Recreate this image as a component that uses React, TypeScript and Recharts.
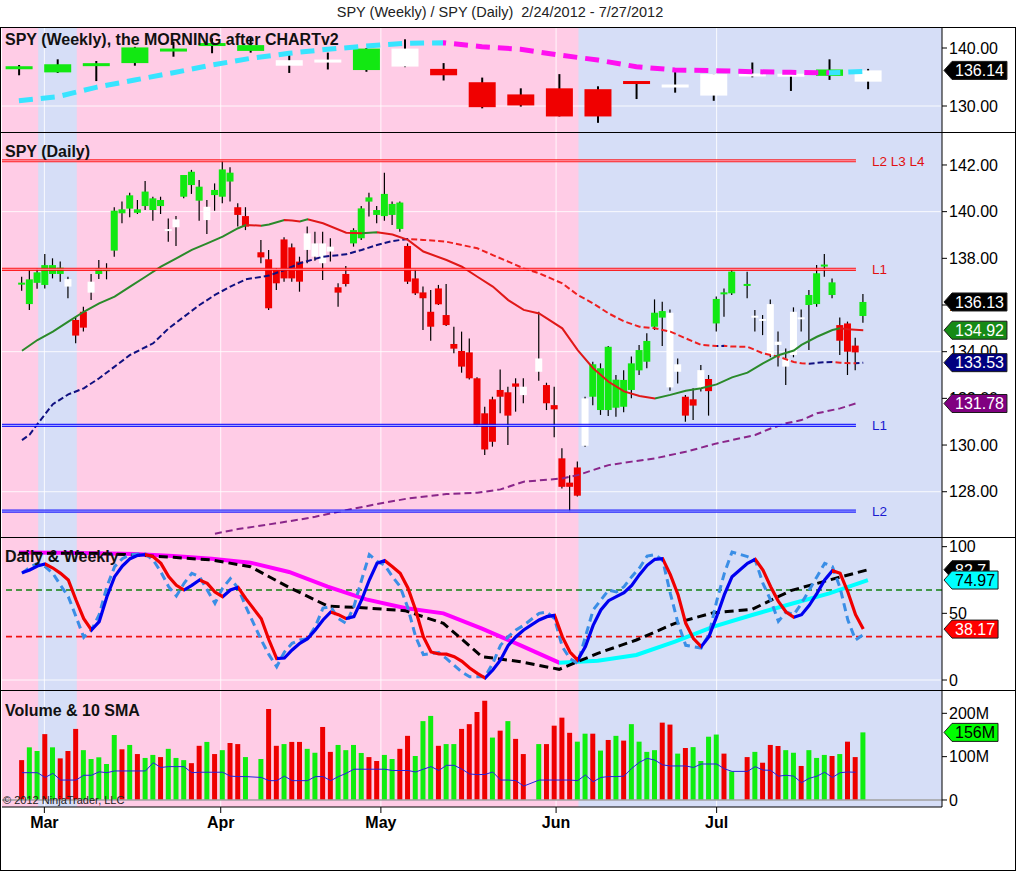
import React from 'react';
import { ComposedChart, Bar, Line, XAxis, YAxis, ReferenceLine, ReferenceArea, Cell } from 'recharts';

const FONT = "'Liberation Sans', Arial, Helvetica, sans-serif";
const TITLE = 'SPY (Weekly) / SPY (Daily)  2/24/2012 - 7/27/2012';

// ---------- time axis: one slot per trading day, holiday slots stay empty ----------
const HOLIDAY_SLOTS = [30, 66, 93];
const LAST_SLOT = 109;
const dailySlots: number[] = [];
for (let s = 0; s <= LAST_SLOT; s++) if (!HOLIDAY_SLOTS.includes(s)) dailySlots.push(s);
const X_MIN = -2.59;
const X_MAX = 119.2;
const WEEK_SHIFT = -0.4;
const weekSlot = (k: number) => 5 * k + WEEK_SHIFT;

const monthTickSlots = [2.9, 25.75, 46.5, 69.2, 90];
const monthLabels = ['Mar', 'Apr', 'May', 'Jun', 'Jul'];

// weekly trend colouring of the background: p = pink, b = blue
const weeklyTrend = 'pbpppppppppppppbbbbbbbb';

// ---------- weekly SPY ----------
const weeklyOpen = [136.55, 135.8, 136.9, 137.4, 139.4, 140.55, 139.5, 137.9, 137.8, 136.2, 139.9, 136.4, 134.1, 130.1, 133.05, 128.2, 134.0, 133.4, 131.8, 135.3, 135.3, 135.2, 134.2];
const weeklyHigh = [137.07, 138.05, 137.76, 140.2, 141.1, 141.7, 141.8, 138.9, 139.2, 140.0, 141.5, 137.4, 134.9, 133.05, 135.5, 133.4, 134.1, 136.2, 135.5, 137.5, 135.4, 138.05, 136.4];
const weeklyLow = [135.3, 135.7, 134.3, 136.95, 138.5, 139.1, 139.2, 135.7, 136.3, 135.9, 136.7, 134.4, 129.6, 129.9, 128.2, 127.1, 131.2, 132.3, 130.9, 134.95, 132.6, 134.5, 132.9];
const weeklyClose = [136.65, 137.2, 137.36, 140.1, 139.9, 140.65, 140.5, 136.95, 137.7, 139.9, 136.8, 135.3, 129.8, 132.0, 128.2, 132.9, 134.1, 133.5, 135.5, 135.4, 135.32, 136.3, 136.14];
const weeklyPaint = 'gggggggwwgwrrrrrrwwwwgw';
const weeklyMA = [130.91, 131.6, 133.22, 134.48, 135.74, 137.07, 138.22, 139.09, 139.78, 140.34, 140.81, 140.91, 140.22, 139.78, 138.79, 137.93, 136.78, 136.21, 136.09, 135.92, 135.8, 135.72, 135.98];

// ---------- daily SPY (one value per trading slot) ----------
const dailyOpen = [
  136.95, 136.04, 136.95, 137.71, 137.33, 137.6, 137.11, 135.36, 135.03, 136.53, 137.33, 137.45, 138.33, 140.1, 140.13, 140.1, 140.24, 140.07, 140.5, 139.18, 139.33, 140.64, 141.71, 141.07, 139.64, 140.93, 140.64, 141.67, 140.19, 139.36,
  138.04, 137.96, 137.53, 137.14, 138.47, 137.86, 138.36, 138.07, 138.64, 138.5, 136.53, 136.9, 138.64, 138.86, 140.61, 140.07, 139.81, 139.86, 140.39, 138.53, 136.5, 136.29, 135.07, 136.71, 135.14, 134.13, 134.03, 133.97, 132.86, 131.36, 130.14, 132.36, 131.26, 132.64, 132.5,
  133.14, 132.57, 131.71, 129.43, 128.39, 127.83, 129.97, 133.46, 131.5, 134.21, 131.6, 132.79, 132.36, 133.2, 133.57, 135.07, 135.74, 135.67, 133.14, 132.07, 131.69, 132.4, 132.31, 135.21, 136.53, 136.5,
  136.89, 135.47, 135.39, 136.04, 134.43, 133.36, 133.86, 135.46, 136.0, 136.04, 137.66, 136.97, 134.47, 135.21, 134.26, 135.53,
];
const dailyHigh = [
  137.21, 137.5, 137.55, 138.19, 138.0, 137.86, 137.21, 135.5, 135.93, 137.33, 137.93, 137.79, 140.19, 140.43, 140.81, 140.5, 141.31, 140.64, 140.64, 139.71, 139.81, 141.57, 141.79, 141.36, 140.5, 141.21, 142.19, 141.9, 140.36, 140.19,
  138.79, 138.36, 137.57, 138.9, 138.64, 138.07, 139.36, 139.14, 139.14, 138.86, 136.93, 137.67, 139.29, 140.24, 140.81, 140.24, 141.67, 140.43, 140.43, 138.64, 137.53, 136.79, 136.64, 136.86, 136.9, 135.07, 134.86, 134.57, 132.9, 131.64, 132.07, 133.24, 132.5, 132.86, 132.86,
  135.71, 132.67, 132.5, 129.86, 128.71, 129.29, 132.07, 133.57, 133.5, 134.24, 133.0, 133.2, 133.79, 134.29, 134.79, 136.24, 136.14, 135.81, 133.71, 132.14, 132.43, 133.43, 133.0, 136.36, 136.71, 137.5,
  137.43, 135.79, 135.57, 136.24, 134.86, 134.14, 135.9, 135.81, 136.64, 137.71, 138.19, 137.14, 135.47, 135.29, 134.6, 136.47,
];
const dailyLow = [
  136.61, 135.79, 136.7, 136.71, 137.14, 137.0, 136.29, 134.36, 134.86, 136.21, 137.11, 137.1, 138.07, 139.5, 139.76, 139.9, 140.07, 139.61, 139.9, 138.71, 138.53, 140.57, 140.76, 139.61, 139.04, 140.04, 140.36, 140.43, 139.36, 139.21,
  137.79, 135.79, 136.64, 137.0, 137.0, 136.57, 137.79, 137.9, 137.07, 137.86, 135.93, 136.79, 138.5, 138.79, 139.79, 139.5, 139.61, 139.43, 139.14, 136.9, 136.43, 134.93, 134.47, 136.0, 135.1, 133.93, 133.1, 132.81, 130.79, 129.57, 129.93, 131.36, 130.0, 131.43, 131.79,
  132.76, 131.5, 130.33, 128.14, 127.14, 127.79, 129.93, 131.71, 131.29, 131.24, 131.21, 131.4, 132.0, 133.0, 133.29, 134.93, 134.24, 132.33, 132.64, 131.0, 131.07, 132.29, 131.26, 134.86, 135.5, 136.43,
  136.29, 134.86, 134.71, 133.76, 133.36, 132.57, 133.76, 134.86, 134.07, 135.93, 137.21, 136.29, 133.86, 133.0, 133.21, 135.24,
];
const dailyClose = [
  136.88, 137.1, 137.4, 136.86, 137.71, 137.33, 136.79, 134.69, 135.71, 137.0, 137.57, 137.55, 140.04, 139.93, 140.7, 139.95, 140.86, 140.57, 140.24, 139.24, 139.67, 141.57, 141.14, 140.47, 140.21, 140.71, 141.81, 141.29, 139.86, 139.81,
  138.26, 135.86, 136.93, 138.81, 137.14, 137.0, 139.07, 138.64, 137.79, 138.29, 136.76, 137.33, 139.21, 140.14, 140.43, 139.86, 140.76, 140.33, 139.26, 137.0, 137.14, 136.54, 135.71, 136.03, 135.57, 134.33, 133.36, 132.86, 130.86, 129.81, 131.96, 132.07, 132.26, 132.5, 132.14,
  133.71, 131.79, 131.53, 128.21, 128.21, 129.04, 132.0, 132.07, 133.29, 131.5, 132.8, 131.64, 133.5, 134.07, 134.46, 135.67, 135.46, 132.47, 133.46, 131.26, 131.96, 133.21, 132.83, 136.26, 136.47, 137.43,
  136.83, 135.53, 135.33, 133.86, 134.29, 133.71, 135.71, 135.4, 136.43, 137.36, 137.72, 136.43, 135.14, 134.0, 133.97, 136.13,
];
const dailyPaint =
  'ggggggwrrwgggggggggwwgggwgggrr' +
  'rrrrrrwwwwrrgggggggrrrrrrrrrrrrrrrw' +
  'wrrrrrwggggggggggwwrrwrggg' +
  'gwwwwwwwggggrrrg';

// moving averages: [slot, value]
const smaShort: [number, number][] = [
  [0, 134.04], [2, 134.5], [4, 134.86], [6, 135.29], [8, 135.71], [10, 136.07], [12, 136.36], [14, 136.79], [16, 137.21], [18, 137.64], [20, 138.0], [22, 138.36], [24, 138.64], [26, 138.93], [28, 139.29], [29, 139.43],
  [31, 139.4], [32, 139.45], [34, 139.64], [35, 139.62], [36, 139.58], [37, 139.67], [39, 139.5], [42, 139.1], [44, 139.08], [46, 139.12], [48, 139.02], [50, 138.79], [52, 138.29], [55, 137.93], [57, 137.64], [59, 137.21], [61, 136.79], [63, 136.21], [65, 135.79],
  [67, 135.64], [68, 135.43], [70, 135.0], [72, 134.07], [74, 133.29], [76, 132.71], [78, 132.3], [80, 132.1], [82, 132.0], [84, 132.15], [86, 132.33], [88, 132.43], [90, 132.6], [92, 132.9],
  [94, 133.1], [96, 133.5], [98, 133.85], [100, 134.05], [101, 134.29], [103, 134.64], [105, 134.93], [106, 135.0], [107, 134.96], [108, 134.94], [109, 134.92],
];
const smaMid: [number, number][] = [
  [0, 130.21], [1, 130.45], [2, 130.9], [4, 131.75], [6, 132.17], [8, 132.43], [10, 132.86], [12, 133.36], [14, 133.86], [17, 134.36], [19, 135.0], [21, 135.5], [23, 136.0], [25, 136.43], [27, 136.79], [29, 137.1],
  [32, 137.26], [34, 137.5], [36, 137.79], [39, 138.07], [42, 138.17], [44, 138.36], [46, 138.57], [48, 138.74], [50, 138.83], [52, 138.79], [55, 138.71], [57, 138.57], [59, 138.43], [61, 138.14], [63, 137.86], [65, 137.57],
  [67, 137.36], [70, 136.93], [72, 136.43], [74, 136.07], [76, 135.64], [78, 135.3], [80, 135.07], [82, 135.0], [84, 134.86], [86, 134.57], [88, 134.29], [90, 134.24], [91, 134.25], [92, 134.22],
  [94, 134.21], [96, 133.93], [98, 133.79], [100, 133.56], [101, 133.5], [102, 133.48], [103, 133.52], [104, 133.55], [105, 133.56], [106, 133.53], [107, 133.51], [108, 133.5], [109, 133.53],
];
const smaLong: [number, number][] = [
  [25, 126.2], [28, 126.4], [32, 126.6], [36, 126.81], [38, 126.93], [42, 127.21], [46, 127.47], [50, 127.71], [55, 127.9], [59, 127.96], [62, 128.1], [65, 128.43],
  [70, 128.57], [72, 128.71], [74, 128.93], [76, 129.14], [79, 129.29], [82, 129.43], [86, 129.71], [90, 130.07], [95, 130.43], [97, 130.71], [99, 130.93], [101, 131.07], [103, 131.36], [106, 131.57], [108, 131.78],
];
const levels = [
  { price: 142.18, label: 'L2 L3 L4', color: '#ff0000', inner: '#ffc4d6', text: '#e01010' },
  { price: 137.53, label: 'L1', color: '#ff0000', inner: '#ffc4d6', text: '#e01010' },
  { price: 130.84, label: 'L1', color: '#0000ff', inner: '#c8d2ff', text: '#1a1ad0' },
  { price: 127.17, label: 'L2', color: '#0000ff', inner: '#c8d2ff', text: '#1a1ad0' },
];
const LEVEL_END_SLOT = 108.05;

// ---------- stochastics ----------
const stochK = [
  80.5, 82.5, 85.5, 87, 84, 80, 75, 60, 46, 37.5, 43.75, 62.5, 77.5, 85.5, 91, 93.5, 94, 92.5, 87.5, 77.5, 71, 67.5, 71, 75, 72.5, 66, 62.5, 67.5, 69.5, 61,
  46, 30, 16, 16.5, 22.5, 27.5, 31, 37.5, 45, 51, 49, 46, 47.5, 60, 75, 87.5, 89.5, 85, 80, 69, 52.5, 32.5, 21, 19.5, 19.4, 17.5, 14, 9, 5, 1.5, 7.5, 15, 26, 32.5, 37.5,
  45, 47.5, 48.5, 32.5, 21, 15, 25, 41, 52.5, 59.5, 62.5, 65.5, 71, 79, 86, 90.5, 91, 79, 64, 42.5, 31, 25, 32.5, 47.5, 64, 77.5,
  87.5, 90.5, 82.5, 70, 59, 51, 47, 49, 56, 65, 75, 82, 80, 66, 49, 38.17,
];
const stochFast = [
  80, 84.5, 87.5, 85, 80, 71, 62.5, 47.5, 32, 37.5, 49, 70, 85, 91, 94, 94.5, 94.5, 90, 81, 70, 63, 72.5, 80, 77.5, 67.5, 57.5, 69, 76, 69, 55,
  30, 19, 10, 21, 27.5, 30, 31, 40, 54, 55, 46, 42.5, 55, 75, 94, 89, 86, 77.5, 70, 54, 32.5, 19, 20, 20.5, 16, 11, 6, 2.5, 2.5, 2.5, 12.5, 26, 32.5, 37.5, 41,
  50, 51, 46, 25, 16, 12.5, 32.5, 52.5, 60, 67.5, 66, 70, 77.5, 84, 93, 94, 90, 65, 42.5, 26, 25, 24, 34, 59, 80, 96,
  92.5, 90, 72.5, 60, 44, 51, 49, 57.5, 67.5, 77.5, 87.5, 85, 69, 45, 30, 34,
];
const weeklyStochK = [95, 95, 95, 93.75, 92, 90, 85, 69.5, 55.5, 54, 52, 42.5, 17.5, 13.75, 8, 20, 30, 42.5, 50.5, 53, 67, 75, 82.7];
const weeklyStochD = [95.6, 95.5, 95, 94.5, 93, 91, 88, 81, 70, 60.5, 54, 50, 38.5, 26, 13, 14.5, 18.75, 28.75, 40, 48.75, 57, 65, 74.97];
const STOCH_HIGH = 67.5;
const STOCH_LOW = 32.5;

// ---------- volume (millions) ----------
const dailyVolume = [
  92, 121.5, 113, 152, 121.5, 96, 113, 164, 115, 94.6, 98.5, 83, 150, 117, 127, 106, 97, 104, 99, 118, 97, 92, 85, 125, 134, 106, 115, 131.5, 129, 99,
  94.6, 210, 125, 129, 134, 134, 118, 109, 168.5, 111, 127, 115, 127, 108.5, 99, 90, 104, 94.6, 118, 148, 101.5, 182, 194, 125, 129, 129, 164, 175, 203, 229, 144, 160, 182, 141, 106,
  129, 129, 171.5, 190, 155, 134.6, 153, 153, 114, 138.5, 148, 137, 175, 134.6, 111, 115, 178.5, 174, 107, 120, 122, 90, 146, 151, 107, 66,
  99, 111, 86, 127, 124.6, 115, 109, 78.5, 115, 97, 104, 101.5, 106, 134.6, 99, 156,
];
const volumeSma = [
  63, 63, 63, 52, 61.5, 46, 46, 46, 57, 57, 65, 63, 67, 67, 67, 67, 67, 86, 75, 77, 77, 77, 63, 64, 64, 64, 64, 55, 54, 54,
  52, 44.6, 44.6, 55, 44.6, 44.6, 44.6, 54, 54, 44.6, 54, 61.5, 71, 71, 71, 71, 71, 68, 68, 68, 64.6, 71, 77, 68, 80, 80, 71, 60, 58.5, 59, 64.6, 46, 46, 44.6, 32,
  46, 46, 46, 46, 46, 44.6, 57.7, 42, 52, 54, 54, 55, 73, 87, 96, 92, 81, 78.5, 78.5, 78.5, 75, 83, 83, 83, 72, 66,
  66, 77, 69, 68.5, 55, 57, 55, 40, 50, 55, 64, 52, 63, 64.6, 64,
];

// ---------- colours ----------
const PINK = '#ffcce6';
const BLUE = '#d6def7';
const PAINT: Record<string, string> = { g: '#12e812', r: '#f00000', w: '#ffffff' };
const VOL_UP = '#10ee10';
const VOL_DOWN = '#ee0000';

// ---------- rows ----------
const toMap = (pts: [number, number][]) => new Map(pts.map(([s, v]) => [s, v]));
const mShort = toMap(smaShort);
const mMid = toMap(smaMid);
const mLong = toMap(smaLong);

const weeklyRows = weeklyClose.map((c, k) => ({
  x: weekSlot(k), o: weeklyOpen[k], h: weeklyHigh[k], l: weeklyLow[k], c, paint: weeklyPaint[k], ma: weeklyMA[k],
}));
const dailyRows = dailySlots.map((s, i) => ({
  x: s, o: dailyOpen[i], h: dailyHigh[i], l: dailyLow[i], c: dailyClose[i], paint: dailyPaint[i],
  smaS: mShort.has(s) ? mShort.get(s) : null,
  smaM: mMid.has(s) ? mMid.get(s) : null,
  smaL: mLong.has(s) ? mLong.get(s) : null,
}));
const stochRows = [
  ...dailySlots.map((s, i) => ({ x: s, k: stochK[i], f: stochFast[i], wk: null as number | null, wd: null as number | null })),
  ...weeklyStochK.map((v, k) => ({ x: weekSlot(k), k: null as number | null, f: null as number | null, wk: v, wd: weeklyStochD[k] })),
].sort((a, b) => a.x - b.x);
const volumeRows = dailySlots.map((s, i) => ({
  x: s, v: dailyVolume[i], up: dailyClose[i] >= dailyOpen[i], vs: i < volumeSma.length ? volumeSma[i] : null,
}));

const bgRuns: [number, number][] = [];
for (let k = 0; k < weeklyTrend.length; k++) {
  if (weeklyTrend[k] !== 'b') continue;
  let e = k;
  while (e + 1 < weeklyTrend.length && weeklyTrend[e + 1] === 'b') e++;
  bgRuns.push([weekSlot(k) - 2.5, e === weeklyTrend.length - 1 ? X_MAX : weekSlot(e) + 2.5]);
  k = e;
}

const last = <T,>(a: T[]) => a[a.length - 1];

// ---------- chart geometry ----------
const WEEKLY_DOMAIN: [number, number] = [125.52, 143.45];
const DAILY_DOMAIN: [number, number] = [126.06, 143.37];
const STOCH_DOMAIN: [number, number] = [-7.5, 106.5];
const VOLUME_DOMAIN: [number, number] = [-16.2, 251.5];

// value tags shown on the right axis (last value of each series)
const weeklyTags = [{ value: last(weeklyClose), text: last(weeklyClose).toFixed(2), bg: '#000', fg: '#fff' }];
const dailyTags = [
  { value: last(dailyClose), text: last(dailyClose).toFixed(2), bg: '#000', fg: '#fff' },
  { value: last(smaShort)[1], text: last(smaShort)[1].toFixed(2), bg: '#168a16', fg: '#fff' },
  { value: last(smaMid)[1], text: last(smaMid)[1].toFixed(2), bg: '#000080', fg: '#fff' },
  { value: last(smaLong)[1], text: last(smaLong)[1].toFixed(2), bg: '#800080', fg: '#fff' },
];
const stochTags = [
  { value: last(weeklyStochK), text: String(last(weeklyStochK)), bg: '#000', fg: '#fff' },
  { value: last(weeklyStochD), text: last(weeklyStochD).toFixed(2), bg: '#00ffff', fg: '#000' },
  { value: last(stochK), text: last(stochK).toFixed(2), bg: '#ff0000', fg: '#fff' },
];
const volumeTags = [{ value: last(dailyVolume), text: last(dailyVolume) + 'M', bg: '#00ff00', fg: '#000' }];

// ---------- helpers ----------
function SlopeGradient({ id, pts, up, down }: { id: string; pts: [number, number][]; up: string; down: string }) {
  const x0 = pts[0][0];
  const x1 = pts[pts.length - 1][0];
  const stops: React.ReactNode[] = [];
  for (let j = 0; j < pts.length - 1; j++) {
    const col = pts[j + 1][1] >= pts[j][1] ? up : down;
    stops.push(<stop key={'a' + j} offset={(pts[j][0] - x0) / (x1 - x0)} stopColor={col} />);
    stops.push(<stop key={'b' + j} offset={(pts[j + 1][0] - x0) / (x1 - x0)} stopColor={col} />);
  }
  return (
    <linearGradient id={id} x1="0" y1="0" x2="1" y2="0">
      {stops}
    </linearGradient>
  );
}

function candleShape(wick: number, minBody: number) {
  return (props: any) => {
    const { x, y, width, height, payload } = props;
    if (!payload || !Number.isFinite(x) || !Number.isFinite(y)) return <g />;
    const top = Math.min(y, y + height);
    const span = Math.abs(height);
    const range = payload.h - payload.l;
    const py = (v: number) => top + (range > 0 ? ((payload.h - v) / range) * span : 0);
    const cx = x + width / 2;
    let bt = py(Math.max(payload.o, payload.c));
    let bb = py(Math.min(payload.o, payload.c));
    if (bb - bt < minBody) {
      const m = (bt + bb) / 2;
      bt = m - minBody / 2;
      bb = m + minBody / 2;
    }
    return (
      <g>
        <line x1={cx} x2={cx} y1={top} y2={top + span} stroke="#000" strokeWidth={wick} />
        <rect x={x} y={bt} width={width} height={bb - bt} fill={PAINT[payload.paint]} />
      </g>
    );
  };
}
const weeklyCandle = candleShape(2, 3);
const dailyCandle = candleShape(1.2, 2);

const textW = (s: string) => s.split('').reduce((w, ch) => w + (ch === '.' ? 4.45 : ch === 'M' ? 13.3 : 8.9), 0);
function tag(text: string, bg: string, fg: string) {
  return (props: any) => {
    const vb = props.viewBox;
    if (!vb) return null;
    const tip = vb.x + vb.width + 2;
    const yc = vb.y;
    const a = 8;
    const h = 18;
    const w = textW(text) + 6;
    const d = `M${tip},${yc} L${tip + a},${yc - h / 2} L${tip + a + w},${yc - h / 2} L${tip + a + w},${yc + h / 2} L${tip + a},${yc + h / 2} Z`;
    return (
      <g>
        <path d={d} fill={bg} stroke="#1a1a1a" strokeWidth={1} />
        <text x={tip + a + 3} y={yc + 5.8} fill={fg} fontSize={16} fontFamily={FONT}>
          {text}
        </text>
      </g>
    );
  };
}
function levelLabel(text: string, color: string) {
  return (props: any) => {
    const vb = props.viewBox;
    if (!vb) return null;
    return (
      <text x={vb.x + vb.width + 16} y={vb.y + 5} fill={color} fontSize={13.5} fontFamily={FONT}>
        {text}
      </text>
    );
  };
}

const MARGIN = { top: 0, right: 0, bottom: 0, left: 2 };
const AXIS_W = 74;
const tickStyle = { fill: '#000', fontSize: 16, fontFamily: FONT };

function backgroundLayer(prefix: string, hLines: number[]) {
  return [
    <ReferenceArea key={prefix + 'bg'} x1={X_MIN} x2={X_MAX} fill={PINK} fillOpacity={1} stroke="none" zIndex={-30} />,
    ...bgRuns.map(([a, b], i) => (
      <ReferenceArea key={prefix + 'blue' + i} x1={a} x2={b} fill={BLUE} fillOpacity={1} stroke="none" zIndex={-25} />
    )),
    ...monthTickSlots.map((s) => (
      <ReferenceLine key={prefix + 'vg' + s} x={s} stroke="#ffffff" strokeOpacity={0.85} strokeWidth={1} zIndex={-20} />
    )),
    ...hLines.map((v) => (
      <ReferenceLine key={prefix + 'hg' + v} y={v} stroke="#ffffff" strokeOpacity={0.85} strokeWidth={1} zIndex={-20} />
    )),
  ];
}

function rightAxis(domain: [number, number], ticks: number[], fmt: (v: number) => string) {
  return (
    <YAxis
      orientation="right"
      type="number"
      domain={domain}
      allowDataOverflow
      ticks={ticks}
      interval={0}
      tickFormatter={fmt}
      width={AXIS_W}
      axisLine={{ stroke: '#000' }}
      tickLine={{ stroke: '#000' }}
      tickSize={5}
      tick={tickStyle}
    />
  );
}

const hiddenX = () => <XAxis type="number" dataKey="x" domain={[X_MIN, X_MAX]} allowDataOverflow hide />;

// transparent chart laid over a panel so that the value tags sit above the axis labels
function TagOverlay({ top, height, domain, data, tags }: { top: number; height: number; domain: [number, number]; data: any[]; tags: { value: number; text: string; bg: string; fg: string }[] }) {
  return (
    <div style={{ position: 'absolute', left: 0, top, pointerEvents: 'none' }}>
      <ComposedChart width={1016} height={height} data={data} margin={MARGIN}>
        {hiddenX()}
        <YAxis orientation="right" type="number" domain={domain} allowDataOverflow width={AXIS_W} tick={false} axisLine={false} tickLine={false} />
        {tags.map((t, i) => (
          <ReferenceLine key={i} y={t.value} stroke="none" label={tag(t.text, t.bg, t.fg)} />
        ))}
      </ComposedChart>
    </div>
  );
}

const panelLabel = (text: string, top: number) => (
  <div
    style={{
      position: 'absolute', left: 5, top, fontSize: 16, lineHeight: '16px', fontWeight: 700, color: '#111',
      fontFamily: FONT, whiteSpace: 'pre', pointerEvents: 'none',
    }}
  >
    {text}
  </div>
);

export default function App() {
  const wMaPts: [number, number][] = weeklyMA.map((v, k) => [weekSlot(k), v]);
  const wdPts: [number, number][] = weeklyStochD.map((v, k) => [weekSlot(k), v]);
  const kPts: [number, number][] = dailySlots.map((s, i) => [s, stochK[i]]);

  return (
    <div style={{ position: 'absolute', left: 0, top: 0, width: 1016, height: 871, background: '#fff', overflow: 'hidden', fontFamily: FONT }}>
      <div style={{ position: 'absolute', left: 0, top: 5, width: 1000, textAlign: 'center', fontSize: 14.5, lineHeight: '14px', color: '#222', whiteSpace: 'pre' }}>
        {TITLE}
      </div>

      {/* weekly panel */}
      <div style={{ position: 'absolute', left: 0, top: 28 }}>
        <ComposedChart width={1016} height={104} data={weeklyRows} margin={MARGIN}>
          <defs>
            <SlopeGradient id="gWeeklyMA" pts={wMaPts} up="#38e4ff" down="#ff10f0" />
          </defs>
          {hiddenX()}
          {rightAxis(WEEKLY_DOMAIN, [130, 140], (v) => v.toFixed(2))}
          {backgroundLayer('w', [130])}
          <Bar dataKey={(d: any) => [d.l, d.h]} barSize={27} shape={weeklyCandle} isAnimationActive={false} />
          <Line dataKey="ma" stroke="url(#gWeeklyMA)" strokeWidth={5} strokeDasharray="14 8" dot={false} activeDot={false} isAnimationActive={false} />
        </ComposedChart>
      </div>
      <TagOverlay top={28} height={104} domain={WEEKLY_DOMAIN} data={weeklyRows} tags={weeklyTags} />

      {/* daily panel */}
      <div style={{ position: 'absolute', left: 0, top: 133 }}>
        <ComposedChart width={1016} height={404} data={dailyRows} margin={MARGIN}>
          <defs>
            <SlopeGradient id="gShort" pts={smaShort} up="#2a8a2a" down="#e01818" />
            <SlopeGradient id="gMid" pts={smaMid} up="#101080" down="#ee2020" />
          </defs>
          {hiddenX()}
          {rightAxis(DAILY_DOMAIN, [128, 130, 132, 134, 136, 138, 140, 142], (v) => v.toFixed(2))}
          {backgroundLayer('d', [128, 134, 140])}
          <Bar dataKey={(d: any) => [d.l, d.h]} barSize={7} shape={dailyCandle} isAnimationActive={false} />
          <Line dataKey="smaL" stroke="#8a268a" strokeWidth={2} strokeDasharray="7 4" dot={false} activeDot={false} connectNulls isAnimationActive={false} />
          <Line dataKey="smaM" stroke="url(#gMid)" strokeWidth={2} strokeDasharray="6 3" dot={false} activeDot={false} connectNulls isAnimationActive={false} />
          <Line dataKey="smaS" stroke="url(#gShort)" strokeWidth={2} dot={false} activeDot={false} connectNulls isAnimationActive={false} />
          {levels.map((lv, i) => (
            <ReferenceLine
              key={'lo' + i}
              segment={[{ x: X_MIN, y: lv.price }, { x: LEVEL_END_SLOT, y: lv.price }]}
              stroke={lv.color}
              strokeOpacity={0.85}
              strokeWidth={3.2}
              zIndex={450}
              label={levelLabel(lv.label, lv.text)}
            />
          ))}
          {levels.map((lv, i) => (
            <ReferenceLine
              key={'li' + i}
              segment={[{ x: X_MIN, y: lv.price }, { x: LEVEL_END_SLOT, y: lv.price }]}
              stroke={lv.inner}
              strokeOpacity={0.9}
              strokeWidth={0.9}
              zIndex={451}
            />
          ))}
        </ComposedChart>
      </div>
      <TagOverlay top={133} height={404} domain={DAILY_DOMAIN} data={dailyRows} tags={dailyTags} />

      {/* stochastics panel */}
      <div style={{ position: 'absolute', left: 0, top: 538 }}>
        <ComposedChart width={1016} height={152} data={stochRows} margin={MARGIN}>
          <defs>
            <SlopeGradient id="gK" pts={kPts} up="#0000f0" down="#f00000" />
            <SlopeGradient id="gWD" pts={wdPts} up="#00ffff" down="#ff00ff" />
          </defs>
          {hiddenX()}
          {rightAxis(STOCH_DOMAIN, [0, 50, 100], (v) => String(v))}
          {backgroundLayer('s', [0])}
          <ReferenceLine y={STOCH_HIGH} stroke="#108010" strokeWidth={1.6} strokeDasharray="6 4" />
          <ReferenceLine y={STOCH_LOW} stroke="#f01010" strokeWidth={1.6} strokeDasharray="6 4" />
          <Line dataKey="wd" stroke="url(#gWD)" strokeWidth={4} dot={false} activeDot={false} connectNulls isAnimationActive={false} />
          <Line dataKey="wk" stroke="#000" strokeWidth={3} strokeDasharray="9 5" dot={false} activeDot={false} connectNulls isAnimationActive={false} />
          <Line dataKey="f" stroke="#3a8ee6" strokeWidth={3} strokeDasharray="8 5" dot={false} activeDot={false} connectNulls isAnimationActive={false} />
          <Line dataKey="k" stroke="url(#gK)" strokeWidth={3.2} dot={false} activeDot={false} connectNulls isAnimationActive={false} />
        </ComposedChart>
      </div>
      <TagOverlay top={538} height={152} domain={STOCH_DOMAIN} data={stochRows} tags={stochTags} />

      {/* volume panel + time axis */}
      <div style={{ position: 'absolute', left: 0, top: 691 }}>
        <ComposedChart width={1016} height={180} data={volumeRows} margin={MARGIN}>
          <XAxis
            type="number"
            dataKey="x"
            domain={[X_MIN, X_MAX]}
            allowDataOverflow
            ticks={monthTickSlots}
            interval={0}
            tickFormatter={(v: number) => monthLabels[monthTickSlots.indexOf(v)] ?? ''}
            height={64}
            axisLine={{ stroke: '#000' }}
            tickLine={{ stroke: '#000' }}
            tickSize={6}
            tickMargin={4}
            tick={{ fill: '#000', fontSize: 16, fontWeight: 700, fontFamily: FONT }}
          />
          {rightAxis(VOLUME_DOMAIN, [0, 100, 200], (v) => (v === 0 ? '0' : v + 'M'))}
          {backgroundLayer('v', [])}
          <ReferenceLine y={0} stroke="#a0a0a0" strokeWidth={1.5} />
          <Bar dataKey="v" barSize={5} isAnimationActive={false}>
            {volumeRows.map((r, i) => (
              <Cell key={i} fill={r.up ? VOL_UP : VOL_DOWN} />
            ))}
          </Bar>
          <Line dataKey="vs" stroke="#2222dd" strokeWidth={1} dot={false} activeDot={false} connectNulls isAnimationActive={false} />
        </ComposedChart>
      </div>
      <div style={{ position: 'absolute', left: 0, top: 691, pointerEvents: 'none' }}>
        <ComposedChart width={1016} height={180} data={volumeRows} margin={MARGIN}>
          <XAxis type="number" dataKey="x" domain={[X_MIN, X_MAX]} allowDataOverflow height={64} tick={false} axisLine={false} tickLine={false} />
          <YAxis orientation="right" type="number" domain={VOLUME_DOMAIN} allowDataOverflow width={AXIS_W} tick={false} axisLine={false} tickLine={false} />
          {volumeTags.map((t, i) => (
            <ReferenceLine key={i} y={t.value} stroke="none" label={tag(t.text, t.bg, t.fg)} />
          ))}
        </ComposedChart>
      </div>

      {/* frame & separators */}
      <div style={{ position: 'absolute', left: 0, top: 27, width: 1016, height: 844, border: '1px solid #000', boxSizing: 'border-box', pointerEvents: 'none' }} />
      {[132, 537, 690].map((y) => (
        <div key={y} style={{ position: 'absolute', left: 0, top: y, width: 1016, height: 1, background: '#000' }} />
      ))}

      {panelLabel('SPY (Weekly), the MORNING after CHARTv2', 32)}
      {panelLabel('SPY (Daily)', 144)}
      {panelLabel('Daily & Weekly', 549)}
      {panelLabel('Volume & 10 SMA', 703)}
      <div style={{ position: 'absolute', left: 3, top: 795, fontSize: 11, lineHeight: '11px', color: '#222', fontFamily: FONT, whiteSpace: 'pre' }}>
        © 2012 NinjaTrader, LLC
      </div>
    </div>
  );
}
